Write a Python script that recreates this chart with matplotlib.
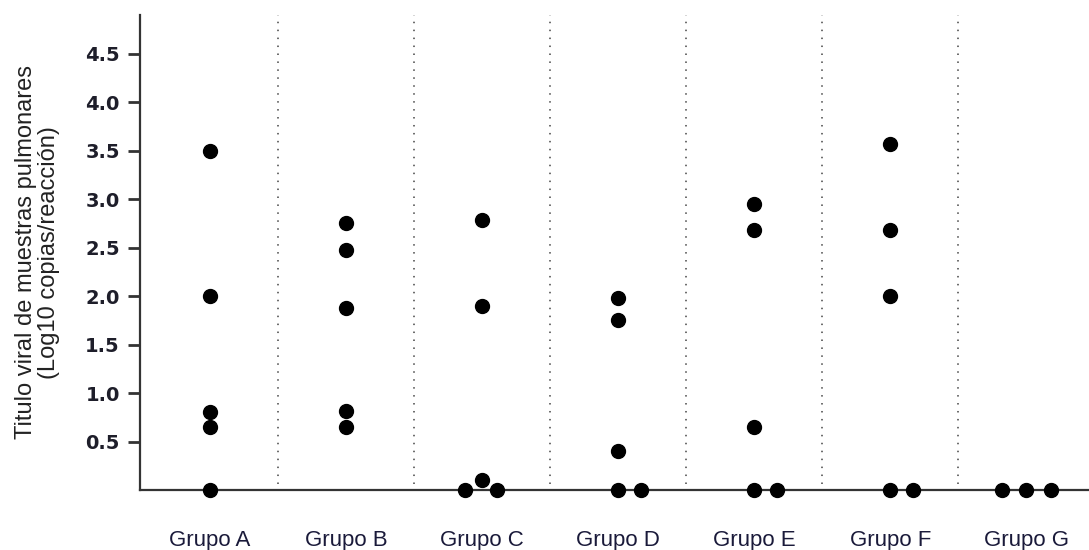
import numpy as np
import matplotlib.pyplot as plt

plt.rcParams['font.family'] = ['DejaVu Sans']

# Valores por grupo (Log10 copias/reacción); 0 = no detectado
grupos = ['Grupo A', 'Grupo B', 'Grupo C', 'Grupo D', 'Grupo E', 'Grupo F', 'Grupo G']
grupo_a = [3.5, 2.0, 0.8, 0.65, 0]
grupo_b = [2.75, 2.48, 1.88, 0.82, 0.65]
grupo_c = [2.78, 1.9, 0.1, 0, 0]
grupo_d = [1.98, 1.75, 0.4, 0, 0]
grupo_e = [2.95, 2.68, 0.65, 0, 0]
grupo_f = [3.57, 2.68, 2.0, 0, 0]
grupo_g = [0, 0, 0]
valores = [grupo_a, grupo_b, grupo_c, grupo_d, grupo_e, grupo_f, grupo_g]
yticks = [0.5, 1.0, 1.5, 2.0, 2.5, 3.0, 3.5, 4.0, 4.5]

fig = plt.figure(figsize=(10.89, 5.5), dpi=100)
ax = fig.add_axes([0.1286, 0.109, 0.8714, 0.864])

for i, vals in enumerate(valores):
    vals = np.array(vals)
    pos = vals[vals > 0]
    ceros = int((vals == 0).sum())
    ax.scatter(np.full(len(pos), i), pos, s=100, color='black', zorder=3, clip_on=False)
    if ceros == 0:
        continue
    # separar los puntos en cero para que no se superpongan
    if ceros == 3:
        off = [-0.18, 0, 0.18]
    elif ceros == 2 and np.any((pos > 0) & (pos < 0.3)):
        off = [-0.13, 0.11]
    else:
        off = [0, 0.17][:ceros]
    ax.scatter(i + np.array(off), np.zeros(ceros), s=100, color='black', zorder=3, clip_on=False)

for k in range(len(grupos) - 1):
    ax.axvline(k + 0.5, ymin=0.012, ymax=1, color='#444444', linestyle=(0, (1, 4.2)), linewidth=1.1)

ax.set_xlim(-0.515, 6.46)
ax.set_ylim(0, 4.9)
ax.set_yticks(yticks)
ax.set_yticklabels([f'{t:.1f}' for t in yticks], fontsize=14, fontweight='bold', color='#1e1e2a')
ax.set_xticks(range(len(grupos)))
ax.set_xticklabels(grupos, fontsize=16, color='#1a1a3a', family='Liberation Sans')
ax.tick_params(axis='x', length=0, pad=29)
ax.tick_params(axis='y', length=8.5, width=2, color='#333333', pad=6)

ax.spines['top'].set_visible(False)
ax.spines['right'].set_visible(False)
for lado in ['left', 'bottom']:
    ax.spines[lado].set_linewidth(1.6)
    ax.spines[lado].set_color('#333333')

ax.set_ylabel('Titulo viral de muestras pulmonares\n(Log10 copias/reacción)',
              fontsize=17, labelpad=18, color='#222222', linespacing=1.05,
              family='Liberation Sans')

plt.savefig('out.png', dpi=100)
